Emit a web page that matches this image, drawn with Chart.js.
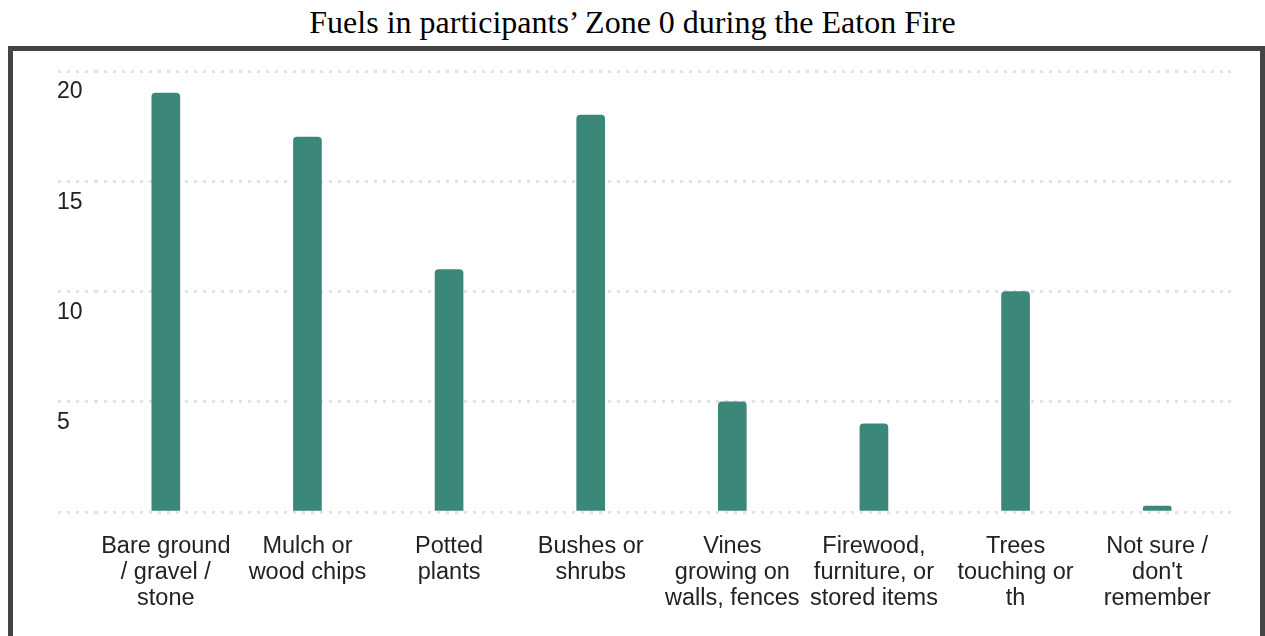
<!DOCTYPE html>
<html>
<head>
<meta charset="utf-8">
<script src="https://cdn.jsdelivr.net/npm/chart.js@4"></script>
<style>
  body { margin: 0; background: #fff; overflow: hidden; }
  #title {
    position: absolute; left: 0; top: 6px; width: 1265px;
    text-align: center; font: 32px "Liberation Serif", "Times New Roman", serif;
    line-height: 32px; color: #000;
  }
  #box {
    position: absolute; left: 8px; top: 46px; width: 1257px; height: 640px;
    box-sizing: border-box; border: 5px solid #444; border-bottom: none;
  }
  #chart { position: absolute; left: 0; top: 0; }
</style>
</head>
<body>
<div id="title">Fuels in participants’ Zone 0 during the Eaton Fire</div>
<div id="box"><canvas id="chart" width="1247" height="582"></canvas></div>
<script>
// Data
const categories = [
  ["Bare ground", "/ gravel /", "stone"],
  ["Mulch or", "wood chips"],
  ["Potted", "plants"],
  ["Bushes or", "shrubs"],
  ["Vines", "growing on", "walls, fences"],
  ["Firewood,", "furniture, or", "stored items"],
  ["Trees", "touching or", "th"],
  ["Not sure /", "don't", "remember"],
];
const counts = [19, 17, 11, 18, 5, 4, 10, 0];
const yTicks = [0, 5, 10, 15, 20];

const gridColor = "#e2e2e2";
const textColor = "#222";
const sansFont = "'Liberation Sans', Arial, Helvetica, sans-serif";

const ctx = document.getElementById("chart").getContext("2d");
new Chart(ctx, {
  type: "bar",
  data: {
    labels: categories,
    datasets: [
      {
        data: counts,
        backgroundColor: "#3b877a",
        borderRadius: 4,
        barThickness: 28,
        minBarLength: 6,
      },
    ],
  },
  options: {
    responsive: false,
    animation: false,
    layout: { padding: { left: 44, right: 25, top: 20, bottom: 0 } },
    plugins: {
      legend: { display: false },
      tooltip: { enabled: false },
    },
    scales: {
      x: {
        grid: { display: false, drawTicks: false },
        border: { display: false },
        ticks: {
          color: textColor,
          padding: 21,
          maxRotation: 0,
          autoSkip: false,
          font: { family: sansFont, size: 23.5, lineHeight: 1.12 },
        },
      },
      y: {
        min: 0,
        max: 20,
        afterBuildTicks: (scale) => {
          scale.ticks = yTicks.map((v) => ({ value: v }));
        },
        afterFit: (scale) => {
          scale.width = 38;
        },
        grid: {
          color: gridColor,
          lineWidth: 3,
          tickLength: 37,
          tickColor: gridColor,
          tickWidth: 3,
          tickBorderDash: [3, 6],
        },
        // dotted grid lines
        border: { display: false, dash: [3, 6] },
        ticks: {
          color: textColor,
          crossAlign: "far",
          labelOffset: 21,
          font: { family: sansFont, size: 23 },
          callback: (v) => (v === 0 ? "" : v),
        },
      },
      yRight: {
        position: "right",
        min: 0,
        max: 20,
        afterBuildTicks: (scale) => {
          scale.ticks = yTicks.map((v) => ({ value: v }));
        },
        grid: {
          drawOnChartArea: false,
          tickLength: 7,
          tickColor: gridColor,
          tickWidth: 3,
          tickBorderDash: [3, 6],
        },
        border: { display: false },
        ticks: { display: false },
      },
    },
  },
});
</script>
</body>
</html>
